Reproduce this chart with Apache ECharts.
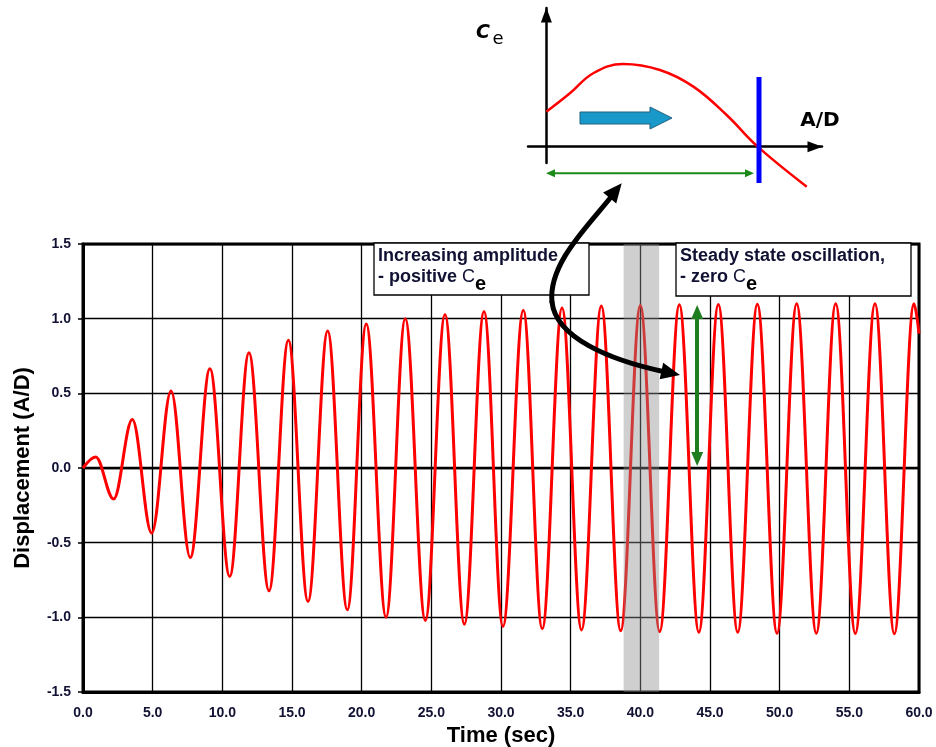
<!DOCTYPE html>
<html>
<head>
<meta charset="utf-8">
<title>Displacement (A/D) vs Time</title>
<script src="https://cdn.jsdelivr.net/npm/echarts@6/dist/echarts.min.js"></script>
<style>
    html, body { margin: 0; padding: 0; background: #fff; }
    #chart { width: 936px; height: 747px; }
</style>
</head>
<body>
<div id="chart"></div>
<script>
    // peaks and troughs of the response
    const timeSec = [0, 0.91, 2.2, 3.54, 4.93, 6.32, 7.70, 9.11, 10.53, 11.91, 13.35, 14.74,
        16.15, 17.56, 18.97, 20.33, 21.75, 23.13, 24.57, 25.98, 27.37, 28.78, 30.14, 31.6,
        32.96, 34.38, 35.78, 37.20, 38.59, 40.0, 41.39, 42.8, 44.2, 45.6, 46.99, 48.4,
        49.81, 51.22, 52.63, 54.02, 55.43, 56.84, 58.23, 59.64, 60]
    const displacement = [0, 0.074, -0.208, 0.324, -0.436, 0.516, -0.60, 0.664, -0.726, 0.771, -0.822, 0.856,
        -0.894, 0.918, -0.95, 0.965, -0.999, 0.999, -1.021, 1.028, -1.046, 1.048, -1.061, 1.057,
        -1.077, 1.072, -1.084, 1.084, -1.09, 1.088, -1.095, 1.093, -1.10, 1.095, -1.10, 1.097,
        -1.106, 1.10, -1.106, 1.10, -1.108, 1.10, -1.11, 1.10, 0.90]

    const xRange = [0, 60]
    const yRange = [-1.5, 1.5]
    const bandRange = [38.8, 41.35]        // shaded transition band
    const ampArrowTime = 44.08             // green amplitude arrow
    const ampArrowSpan = [0.06, 1.045]

    // inset: Ce against A/D (schematic)
    const insetAD = [0, 0.128, 0.255, 0.418, 0.618, 0.80, 0.981, 1.15, 1.417]
    const insetCe = [0.214, 0.327, 0.45, 0.507, 0.47, 0.368, 0.194, 0, -0.245]

    const FONT = '"Liberation Sans", Arial, sans-serif'
    const TXT = '#111133'

    const ctx = document.createElement('canvas').getContext('2d')
    const textWidth = (str, font) => { ctx.font = font; return ctx.measureText(str).width }

    // triangle arrow head with its tip at (tx, ty), pointing away from (fx, fy)
    const arrowHead = (tx, ty, fx, fy, len, half, color) => {
        const d = Math.hypot(tx - fx, ty - fy)
        const ux = (tx - fx) / d, uy = (ty - fy) / d
        const bx = tx - ux * len, by = ty - uy * len
        return {
            type: 'polygon', z: 100,
            shape: { points: [[tx, ty], [bx - uy * half, by + ux * half], [bx + uy * half, by - ux * half]] },
            style: { fill: color }
        }
    }

    const note = (x, y, w, h, line1, line2) => {
        const boldFont = 'bold 18px ' + FONT
        const cFont = '18px ' + FONT
        const eFont = 'bold 20px ' + FONT
        const w2 = textWidth(line2, boldFont)
        const wc = textWidth('C', cFont)
        return [
            { type: 'rect', z: 90, shape: { x, y, width: w, height: h }, style: { fill: '#fff', stroke: '#000', lineWidth: 1.3 } },
            { type: 'text', z: 91, style: { x: x + 4, y: y + 13.5, text: line1, font: boldFont, fill: TXT, align: 'left', verticalAlign: 'middle' } },
            { type: 'text', z: 91, style: { x: x + 4, y: y + 34, text: line2, font: boldFont, fill: TXT, align: 'left', verticalAlign: 'middle' } },
            { type: 'text', z: 91, style: { x: x + 4 + w2, y: y + 34, text: 'C', font: cFont, fill: TXT, align: 'left', verticalAlign: 'middle' } },
            { type: 'text', z: 91, style: { x: x + 4 + w2 + wc, y: y + 41, text: 'e', font: eFont, fill: '#000', align: 'left', verticalAlign: 'middle' } }
        ]
    }

    const chart = echarts.init(document.getElementById('chart'))

    chart.setOption({
        animation: false,
        backgroundColor: '#fff',
        grid: [
            { left: 83, right: 17, top: 244, bottom: 55, show: true, borderColor: '#000', borderWidth: 3, backgroundColor: 'transparent', outerBoundsMode: 'none' },
            { left: 528, right: 114, top: 8, bottom: 584, outerBoundsMode: 'none' }
        ],
        xAxis: [
            {
                type: 'value', gridIndex: 0, min: xRange[0], max: xRange[1], interval: 5,
                name: 'Time (sec)', nameLocation: 'middle', nameGap: 26,
                nameTextStyle: { fontFamily: FONT, fontWeight: 'bold', fontSize: 22, color: '#000' },
                axisLine: { onZero: false, lineStyle: { color: '#000', width: 3 } },
                axisTick: { show: false },
                axisLabel: { margin: 14, showMinLabel: true, showMaxLabel: true, fontFamily: FONT, fontWeight: 'bold', fontSize: 14, color: TXT, formatter: v => v.toFixed(1) },
                splitLine: { show: true, lineStyle: { color: '#000', width: 1.3 } }
            },
            {
                type: 'value', gridIndex: 1, min: -0.1, max: 1.5,
                axisLine: { onZero: true, symbol: ['none', 'triangle'], symbolSize: [11, 15], symbolOffset: [0, -7], lineStyle: { color: '#000', width: 2.5 } },
                axisTick: { show: false }, axisLabel: { show: false }, splitLine: { show: false }
            }
        ],
        yAxis: [
            {
                type: 'value', gridIndex: 0, min: yRange[0], max: yRange[1], interval: 0.5,
                name: 'Displacement (A/D)', nameLocation: 'middle', nameGap: 49,
                nameTextStyle: { fontFamily: FONT, fontWeight: 'bold', fontSize: 22, color: '#000' },
                axisLine: { onZero: false, lineStyle: { color: '#000', width: 3 } },
                axisTick: { show: true, length: 5, lineStyle: { color: '#000', width: 1.5 } },
                axisLabel: { margin: 12, showMinLabel: true, showMaxLabel: true, fontFamily: FONT, fontWeight: 'bold', fontSize: 14, color: TXT, formatter: v => v.toFixed(1) },
                splitLine: { show: true, lineStyle: { color: '#000', width: 1.3 } }
            },
            {
                type: 'value', gridIndex: 1, min: -0.1, max: 0.85,
                axisLine: { onZero: true, symbol: ['none', 'triangle'], symbolSize: [11, 15], symbolOffset: [0, -7], lineStyle: { color: '#000', width: 2.5 } },
                axisTick: { show: false }, axisLabel: { show: false }, splitLine: { show: false }
            }
        ],
        series: [
            {
                type: 'line', xAxisIndex: 0, yAxisIndex: 0, z: 1,
                data: [[xRange[0], 0]], symbol: 'none', lineStyle: { width: 0 },
                markLine: {
                    silent: true, z: 1, symbol: 'none', label: { show: false },
                    lineStyle: { color: '#000', width: 2.3, type: 'solid' },
                    data: [{ yAxis: 0 }]
                }
            },
            {
                type: 'line', name: 'Displacement', xAxisIndex: 0, yAxisIndex: 0, z: 3,
                data: timeSec.map((t, i) => [t, displacement[i]]),
                smooth: 0.36, smoothMonotone: 'x', symbol: 'none',
                lineStyle: { color: '#ff0000', width: 3 },
                markArea: {
                    silent: true, z: 5,
                    itemStyle: { color: 'rgba(140,140,140,0.42)' },
                    data: [[{ xAxis: bandRange[0] }, { xAxis: bandRange[1] }]]
                },
                markLine: {
                    silent: true, z: 6, symbol: ['triangle', 'triangle'], symbolSize: [12, 14],
                    label: { show: false },
                    lineStyle: { color: '#1e7d1e', width: 4, type: 'solid' },
                    data: [[{ coord: [ampArrowTime, ampArrowSpan[0]] }, { coord: [ampArrowTime, ampArrowSpan[1]] }]]
                }
            },
            {
                type: 'line', xAxisIndex: 1, yAxisIndex: 1, z: 4, clip: false,
                data: insetAD.map((a, i) => [a, insetCe[i]]),
                smooth: 0.4, symbol: 'none',
                lineStyle: { color: '#ff0000', width: 2.5 }
            }
        ],
        graphic: [
            ...note(374, 243, 215, 52, 'Increasing amplitude', '- positive '),
            ...note(676, 243, 235, 53, 'Steady state oscillation,', '- zero '),
            // inset decorations
            { type: 'line', z: 100, shape: { x1: 759, y1: 77, x2: 759, y2: 183 }, style: { stroke: '#0000ff', lineWidth: 5 } },
            {
                type: 'polygon', z: 100,
                shape: { points: [[580, 112], [650, 112], [650, 107], [672, 118], [650, 129], [650, 124], [580, 124]] },
                style: { fill: '#1899c9', stroke: '#23607e', lineWidth: 1 }
            },
            { type: 'line', z: 100, shape: { x1: 553, y1: 173.3, x2: 747, y2: 173.3 }, style: { stroke: '#1b8a1b', lineWidth: 2 } },
            arrowHead(546, 173.3, 556, 173.3, 9, 4, '#1b8a1b'),
            arrowHead(754, 173.3, 744, 173.3, 9, 4, '#1b8a1b'),
            { type: 'text', z: 100, style: { x: 483, y: 33, text: 'C', font: 'italic bold 19px "DejaVu Sans", sans-serif', fill: '#000', align: 'center', verticalAlign: 'middle' } },
            { type: 'text', z: 100, style: { x: 498, y: 39, text: 'e', font: '18px "DejaVu Sans", sans-serif', fill: '#000', align: 'center', verticalAlign: 'middle' } },
            { type: 'text', z: 100, style: { x: 820, y: 121, text: 'A/D', font: 'bold 20px "DejaVu Sans", sans-serif', fill: '#000', align: 'center', verticalAlign: 'middle' } },
            // curved pointer from the inset to the steady-state region
            {
                type: 'bezierCurve', z: 100,
                shape: { x1: 611, y1: 197, cpx1: 588, cpy1: 226, cpx2: 548, cpy2: 264, x2: 552, y2: 302 },
                style: { stroke: '#000', lineWidth: 5, fill: null, lineCap: 'round' }
            },
            {
                type: 'bezierCurve', z: 100,
                shape: { x1: 552, y1: 302, cpx1: 556, cpy1: 338, cpx2: 610, cpy2: 360, x2: 663, y2: 371.5 },
                style: { stroke: '#000', lineWidth: 5, fill: null, lineCap: 'round' }
            },
            arrowHead(621.7, 183.3, 590, 222, 19, 8.5, '#000'),
            arrowHead(680, 375, 610, 360, 19, 8.5, '#000')
        ]
    })
</script>
</body>
</html>
